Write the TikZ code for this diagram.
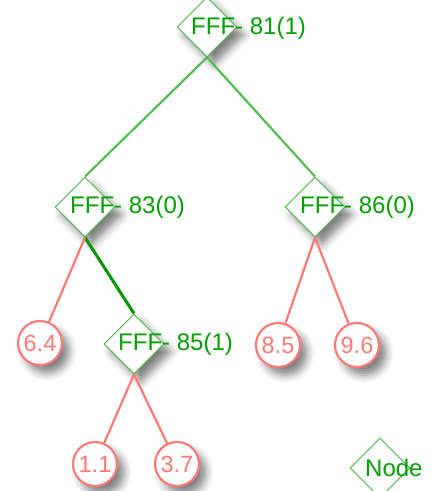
\documentclass[tikz,border=0pt]{standalone}
\usepackage{fontspec}
\setmainfont{Liberation Sans}
\usetikzlibrary{shapes.geometric,shadows.blur,fit}

\definecolor{fffgreen}{RGB}{0,160,0}
\definecolor{rimgreen}{RGB}{70,180,70}
\definecolor{linkgreen}{RGB}{80,190,80}
\definecolor{hotgreen}{RGB}{0,150,0}
\definecolor{leafred}{RGB}{255,120,120}

\pgfdeclarelayer{background}
\pgfsetlayers{background,main}

\tikzset{
  soft/.style={blur shadow={shadow xshift=7pt, shadow yshift=-8pt, shadow blur radius=8pt, shadow opacity=50}},
  fff/.style={diamond, draw=rimgreen, line width=0.9pt, fill=white, minimum width=60pt, minimum height=60pt, inner sep=0pt},
  fffname/.style={anchor=base west, text=fffgreen, inner sep=0pt, font=\fontsize{24pt}{28pt}\selectfont},
  leaf/.style={circle, draw=leafred, line width=2.2pt, fill=white, text=leafred, minimum size=44pt, inner sep=0pt, font=\fontsize{23.5pt}{28pt}\selectfont, soft},
  ghost/.style={rectangle, fill=white, inner sep=1pt, soft},
  link/.style={draw=linkgreen, line width=2.2pt},
  hotlink/.style={draw=hotgreen, line width=3pt},
  leaflink/.style={draw=leafred, line width=2.2pt}
}

\begin{document}
\begin{tikzpicture}[x=1pt, y=-1pt]
  \useasboundingbox (0,0) rectangle (435,491);
  % inner nodes
  \node[fff, soft] (n81) at (207,27) {};
  \node[fff, soft] (n83) at (85,207) {};
  \node[fff, soft] (n86) at (315,207) {};
  \node[fff, soft] (n85) at (134,344) {};
  \node[fffname] (t81) at ([xshift=-16pt, yshift=-7pt]n81.center) {FFF- 81(1)};
  \node[fffname] (t83) at ([xshift=-15pt, yshift=-6pt]n83.center) {FFF- 83(0)};
  \node[fffname] (t86) at ([xshift=-15pt, yshift=-6pt]n86.center) {FFF- 86(0)};
  \node[fffname] (t85) at ([xshift=-16pt, yshift=-6pt]n85.center) {FFF- 85(1)};
  \begin{pgfonlayer}{background}
    \foreach \t in {t81,t83,t86,t85}
      \node[ghost, fit=(\t)] {};
  \end{pgfonlayer}
  % leaves
  \node[leaf] (c64) at (40,343) {6.4};
  \node[leaf] (c11) at (95,464) {1.1};
  \node[leaf] (c37) at (177,464) {3.7};
  \node[leaf] (c85) at (278,345) {8.5};
  \node[leaf] (c96) at (357,345) {9.6};
  % legend
  \node[fff] (key) at (380,468) {};
  \node[fffname] (tkey) at ([xshift=-15pt, yshift=-8pt]key.center) {Node};

  \path[link]
  (n81.south) edge (n83.north) edge (n86.north)
  ;
  \path[hotlink]
  (n83.south) edge (n85.north)
  ;
  \path[leaflink]
  (n83.south) edge (c64)
  (n85.south) edge (c11) edge (c37)
  (n86.south) edge (c85) edge (c96)
  ;
\end{tikzpicture}
\end{document}
